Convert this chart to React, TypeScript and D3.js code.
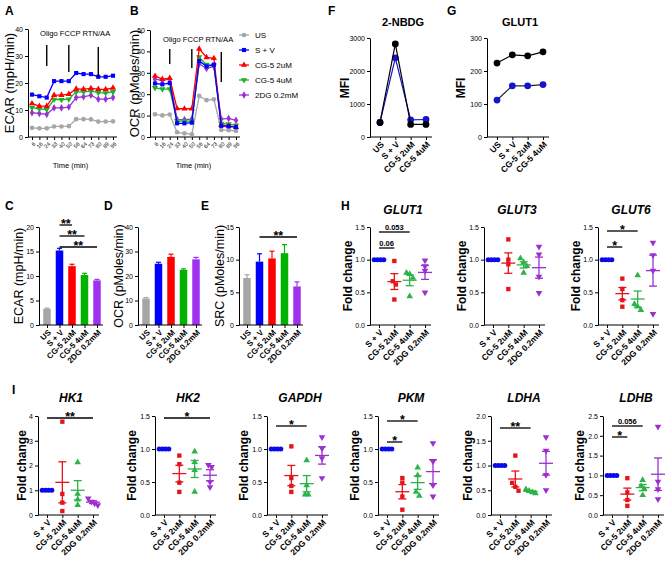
import React, { useRef, useEffect } from "react";
import * as d3 from "d3";

const FONT = "'Liberation Sans', Arial, Helvetica, sans-serif";

// ---- A / B : seahorse time course ----
const timeLabels = ["6", "16", "24", "33", "40", "50", "56", "64", "73", "80", "89", "96"];
const seahorseGroups = ["US", "S + V", "CG-5 2uM", "CG-5 4uM", "2DG 0.2mM"];
const ecarUS = [3.4, 3.2, 3.2, 3.9, 3.9, 4.0, 6.6, 6.6, 6.5, 5.7, 5.7, 5.8];
const ecarSV = [15.7, 15.1, 14.6, 20.7, 20.7, 20.7, 23.7, 23.3, 23.3, 22.3, 22.3, 22.7];
const ecarCG2 = [12.4, 11.4, 11.4, 15.5, 15.5, 15.9, 17.8, 17.7, 18.0, 17.7, 17.6, 18.2];
const ecarCG4 = [10.9, 10.4, 10.2, 13.9, 13.8, 14.0, 16.7, 16.7, 17.0, 16.4, 16.3, 16.7];
const ecar2DG = [9.0, 8.7, 8.4, 10.8, 10.8, 11.1, 14.6, 14.9, 15.5, 14.0, 14.0, 14.6];
const ocrUS = [10.6, 10.1, 10.5, 2.2, 1.7, 1.3, 19.2, 17.2, 17.6, 3.3, 3.2, 2.8];
const ocrSV = [25.0, 24.6, 25.2, 6.4, 6.4, 6.7, 35.5, 33.0, 33.8, 5.2, 5.0, 4.6];
const ocrCG2 = [28.5, 27.0, 27.5, 13.3, 13.2, 13.2, 41.2, 37.2, 36.8, 5.5, 5.2, 4.6];
const ocrCG4 = [23.0, 22.4, 22.4, 7.4, 7.4, 7.4, 37.3, 33.8, 33.5, 6.3, 6.0, 5.5];
const ocr2DG = [27.0, 26.5, 27.0, 8.2, 8.1, 8.4, 34.2, 32.0, 33.0, 8.4, 8.7, 7.8];
const injectionIdx = [2, 5, 9];

// ---- C / D / E : bars ----
const ecarMean = [3.3, 15.2, 12.0, 10.2, 9.1];
const ecarErr = [0.15, 0.45, 0.4, 0.35, 0.2];
const ocrMean = [10.8, 25.0, 27.8, 22.5, 26.8];
const ocrErr = [0.4, 0.6, 1.1, 0.4, 0.8];
const srcMean = [7.2, 9.7, 10.2, 11.0, 5.9];
const srcErr = [0.5, 1.2, 1.1, 1.3, 0.7];

// ---- F / G : MFI ----
const mfiGroups = ["US", "S + V", "CG-5 2uM", "CG-5 4uM"];
const nbdgBlack = [440, 2820, 380, 380];
const nbdgBlue = [440, 2400, 520, 530];
const glut1Black = [224, 249, 246, 258];
const glut1Blue = [112, 155, 155, 159];

// ---- H / I : fold change ----
const geneGroups = ["S + V", "CG-5 2uM", "CG-5 4uM", "2DG 0.2mM"];
const glut1 = [[1, 1, 1, 1], [0.98, 0.67, 0.62, 0.39], [0.8, 0.78, 0.72, 0.44], [0.99, 0.9, 0.83, 0.5]];
const glut3 = [[1, 1, 1, 1], [1.31, 1.0, 0.93, 0.55], [1.02, 0.96, 0.9, 0.8], [1.2, 1.08, 0.74, 0.49]];
const glut6 = [[1, 1, 1, 1], [0.71, 0.55, 0.38, 0.28], [0.76, 0.32, 0.28, 0.23], [1.26, 1.07, 0.83, 0.17]];
const hk1 = [[1, 1, 1, 1], [3.77, 0.85, 0.5, 0.16], [2.13, 0.85, 0.62, 0.4], [0.67, 0.54, 0.47, 0.4]];
const hk2 = [[1, 1, 1, 1], [0.9, 0.77, 0.49, 0.35], [0.96, 0.8, 0.68, 0.35], [0.76, 0.73, 0.5, 0.42]];
const gapdh = [[1, 1, 1, 1], [1.04, 0.56, 0.44, 0.35], [0.83, 0.45, 0.31, 0.31], [1.18, 1.01, 0.86, 0.56]];
const pkm = [[1, 1, 1, 1], [0.56, 0.49, 0.28, 0.08], [0.72, 0.6, 0.35, 0.29], [1.09, 0.81, 0.45, 0.28]];
const ldha = [[1, 1, 1, 1], [1.2, 0.65, 0.57, 0.49], [0.52, 0.49, 0.46, 0.44], [1.57, 1.3, 0.81, 0.5]];
const ldhb = [[1, 1, 1, 1], [0.93, 0.57, 0.38, 0.23], [0.88, 0.73, 0.66, 0.5], [2.23, 0.84, 0.65, 0.4]];

const groupColor = ["#a6a6a6", "#0000ff", "#ff0000", "#1fb02a", "#9a2fd6"];
const barColor = ["#a6a6a6", "#0000ff", "#ff0000", "#00b300", "#a030f0"];
const dotColor = ["#0a0aee", "#e3151b", "#2db34a", "#9b30d0"];
const seriesSymbol = [d3.symbolCircle, d3.symbolSquare, d3.symbolTriangle, d3.symbolTriangle, d3.symbolDiamond];
const seriesRot = [0, 0, 0, 180, 0];
const dotSymbol = [d3.symbolCircle, d3.symbolSquare, d3.symbolTriangle, d3.symbolTriangle];
const dotRot = [0, 0, 0, 180];

function txt(g: any, x: number, y: number, s: string, size: number, o: any = {}) {
  const t = g.append("text").attr("x", x).attr("y", y).text(s)
    .attr("font-family", FONT).attr("font-size", size).attr("fill", "#000")
    .attr("font-weight", o.bold ? "bold" : "normal")
    .attr("text-anchor", o.anchor || "start");
  if (o.italic) t.attr("font-style", "italic");
  return t;
}

function yTitle(g: any, cx: number, cy: number, s: string, size: number, bold: boolean) {
  g.append("text")
    .attr("transform", `translate(${cx},${cy}) rotate(-90)`)
    .attr("dy", "0.35em").attr("text-anchor", "middle")
    .attr("font-family", FONT).attr("font-size", size)
    .attr("font-weight", bold ? "bold" : "normal").attr("fill", "#000")
    .text(s);
}

function yAxis(g: any, y: any, x: number, ticks: number[], fmt: any, size = 7) {
  const a = g.append("g").attr("transform", `translate(${x},0)`)
    .call(d3.axisLeft(y).tickValues(ticks).tickFormat(fmt).tickSize(3).tickSizeOuter(0).tickPadding(2));
  a.attr("font-family", FONT).attr("font-size", size);
  a.selectAll("line, path").attr("stroke", "#000").attr("stroke-width", 1);
  a.selectAll("text").attr("fill", "#000");
}

function xAxis(g: any, x: any, vals: any[], fmt: any, x0: number, x1: number, yb: number, size: number, bold: boolean) {
  const a = g.append("g").attr("transform", `translate(0,${yb})`)
    .call(d3.axisBottom(x).tickValues(vals).tickFormat(fmt).tickSize(3).tickSizeOuter(0));
  a.select(".domain").remove();
  a.append("line").attr("x1", x0).attr("x2", x1).attr("stroke", "#000").attr("stroke-width", 1);
  a.attr("font-family", FONT).attr("font-size", size).attr("font-weight", bold ? "bold" : "normal");
  a.selectAll(".tick line").attr("stroke", "#000");
  a.selectAll(".tick text").attr("y", 0).attr("dy", "0.35em").attr("fill", "#000")
    .attr("transform", "translate(2,6) rotate(-45)").style("text-anchor", "end");
}

function sigBar(g: any, x1: number, x2: number, yy: number, label: string) {
  g.append("line").attr("x1", x1).attr("x2", x2).attr("y1", yy).attr("y2", yy)
    .attr("stroke", "#000").attr("stroke-width", 1.3);
  const star = label.includes("*");
  txt(g, (x1 + x2) / 2, star ? yy + 3 : yy - 2.5, label, star ? 12.5 : 7.5, { bold: true, anchor: "middle" });
}

function seahorse(svg: any, c: any) {
  const g = svg.append("g");
  const y = d3.scaleLinear().domain([0, c.yMax]).range([c.bottom, c.top]);
  const x = d3.scaleLinear().domain([0, timeLabels.length - 1]).range([c.x0, c.x1]);
  yAxis(g, y, c.ax, d3.range(0, c.yMax + 1, 10), d3.format("d"), 7);
  xAxis(g, x, d3.range(timeLabels.length), (i: number) => timeLabels[i], c.ax, c.x1 + 4, c.bottom, 5.5, false);
  const line = d3.line<number>().x((d, i) => x(i)).y((d) => y(d));
  [0, 4, 3, 2, 1].forEach((k) => {
    const s = c.series[k];
    g.append("path").attr("d", line(s)).attr("fill", "none").attr("stroke", groupColor[k]).attr("stroke-width", 1.3);
    s.forEach((v: number, i: number) =>
      g.append("path").attr("d", d3.symbol(seriesSymbol[k], 17)())
        .attr("transform", `translate(${x(i)},${y(v)}) rotate(${seriesRot[k]})`)
        .attr("fill", groupColor[k]));
  });
  injectionIdx.forEach((idx, j) =>
    g.append("line").attr("x1", x(idx)).attr("x2", x(idx))
      .attr("y1", c.marks[j][0]).attr("y2", c.marks[j][1])
      .attr("stroke", "#000").attr("stroke-width", 1.4));
  txt(g, c.labelX, c.labelY, "Oligo FCCP RTN/AA", 7.6);
  txt(g, (c.x0 + c.x1) / 2 - 2, 168, "Time (min)", 7.5, { anchor: "middle" });
  yTitle(g, c.titleX, (c.top + c.bottom) / 2, c.title, 13, false);
}

function bars(svg: any, c: any) {
  const g = svg.append("g");
  const y = d3.scaleLinear().domain([0, c.yMax]).range([325, 227]);
  const x = d3.scalePoint().domain(seahorseGroups).range([c.ax + 8, c.ax + 58]);
  const bw = 7.5;
  c.means.forEach((m: number, i: number) => {
    const cx = x(seahorseGroups[i]) as number;
    const top = y(m + c.errs[i]);
    g.append("line").attr("x1", cx).attr("x2", cx).attr("y1", y(m)).attr("y2", top)
      .attr("stroke", barColor[i]).attr("stroke-width", 1.2);
    g.append("line").attr("x1", cx - 2.5).attr("x2", cx + 2.5).attr("y1", top).attr("y2", top)
      .attr("stroke", barColor[i]).attr("stroke-width", 1.2);
    g.append("rect").attr("x", cx - bw / 2).attr("y", y(m)).attr("width", bw)
      .attr("height", y(0) - y(m)).attr("fill", barColor[i]);
  });
  yAxis(g, y, c.ax, c.ticks, d3.format("d"), 7);
  xAxis(g, x, seahorseGroups, (d: string) => d, c.ax, c.ax + 64, 325, 8, true);
  (c.sig || []).forEach((s: any) =>
    sigBar(g, x(seahorseGroups[s.from]) as number, x(seahorseGroups[s.to]) as number, s.y, s.label));
  yTitle(g, c.titleX, 276, c.title, 12.5, false);
  txt(g, c.letterX, 210, c.letter, 12, { bold: true });
}

function mfi(svg: any, c: any) {
  const g = svg.append("g");
  const y = d3.scaleLinear().domain([0, c.yMax]).range([137, 38]);
  const x = d3.scalePoint().domain(mfiGroups).range([c.ax + 10, c.ax + 56]);
  yAxis(g, y, c.ax, c.ticks, d3.format("d"), 7);
  xAxis(g, x, mfiGroups, (d: string) => d, c.ax, c.ax + 62, 137, 8.5, true);
  const line = d3.line<number>().x((d, i) => x(mfiGroups[i]) as number).y((d) => y(d));
  [[c.blue, "#1515d0", c.blueLine], [c.black, "#000", "#000"]].forEach(([vals, col, lc]: any) => {
    g.append("path").attr("d", line(vals)).attr("fill", "none").attr("stroke", lc).attr("stroke-width", 1.2);
    vals.forEach((v: number, i: number) =>
      g.append("circle").attr("cx", x(mfiGroups[i])).attr("cy", y(v)).attr("r", 3.4).attr("fill", col));
  });
  txt(g, c.ax + 33, 26, c.title, 11, { bold: true, anchor: "middle" });
  yTitle(g, c.titleX, 88, "MFI", 12, true);
}

function spread(vals: number[], y: any) {
  const idx = vals.map((v, i) => i).sort((a, b) => vals[b] - vals[a]);
  const off = vals.map(() => 0);
  let cluster = [idx[0]];
  const flush = () => {
    const n = cluster.length;
    cluster.forEach((k, j) => (off[k] = (j - (n - 1) / 2) * 3.2));
  };
  for (let j = 1; j < idx.length; j++) {
    if (Math.abs(y(vals[idx[j]]) - y(vals[idx[j - 1]])) < 4.5) cluster.push(idx[j]);
    else { flush(); cluster = [idx[j]]; }
  }
  flush();
  return off;
}

function gene(svg: any, c: any) {
  const g = svg.append("g");
  const y = d3.scaleLinear().domain([0, c.yMax]).range([c.bottom, c.top]);
  const x = d3.scalePoint().domain(geneGroups).range([c.ax + 9, c.ax + 55]);
  yAxis(g, y, c.ax, c.ticks, c.fmt, 7);
  xAxis(g, x, geneGroups, (d: string) => d, c.ax, c.ax + 61, c.bottom, 8.5, true);
  c.values.forEach((vals: number[], k: number) => {
    const cx = x(geneGroups[k]) as number;
    const off = spread(vals, y);
    vals.forEach((v, i) =>
      g.append("path").attr("d", d3.symbol(dotSymbol[k], k === 0 ? 20 : 19)())
        .attr("transform", `translate(${cx + off[i]},${y(v)}) rotate(${dotRot[k]})`)
        .attr("fill", dotColor[k]));
    if (k > 0) {
      const m = d3.mean(vals) as number;
      const se = (d3.deviation(vals) as number) / Math.sqrt(vals.length);
      const ln = (x1: number, x2: number, y1: number, y2: number) =>
        g.append("line").attr("x1", x1).attr("x2", x2).attr("y1", y1).attr("y2", y2)
          .attr("stroke", dotColor[k]).attr("stroke-width", 1.3);
      ln(cx - 7, cx + 7, y(m), y(m));
      ln(cx, cx, y(m - se), y(m + se));
      ln(cx - 4, cx + 4, y(m - se), y(m - se));
      ln(cx - 4, cx + 4, y(m + se), y(m + se));
    }
  });
  (c.sig || []).forEach((s: any) =>
    sigBar(g, x(geneGroups[s.from]) as number, x(geneGroups[s.to]) as number, s.y, s.label));
  txt(g, c.ax + 33, c.titleY, c.title, 12, { bold: true, italic: true, anchor: "middle" });
  yTitle(g, c.ax - c.labelGap, (c.top + c.bottom) / 2, "Fold change", 12, true);
}

const App = () => {
  const svgRef = useRef<SVGSVGElement | null>(null);

  useEffect(() => {
    if (!svgRef.current) return;
    const svg = d3.select(svgRef.current);
    svg.selectAll("*").remove();
    svg.append("rect").attr("width", 669).attr("height", 565).attr("fill", "#fff");

    // A
    seahorse(svg, {
      ax: 28, x0: 32, x1: 113, top: 29, bottom: 137, yMax: 40,
      series: [ecarUS, ecarSV, ecarCG2, ecarCG4, ecar2DG],
      marks: [[45, 66], [45, 72], [47, 77]], labelX: 40, labelY: 36,
      title: "ECAR (mpH/min)", titleX: 9,
    });
    // B
    seahorse(svg, {
      ax: 150, x0: 155, x1: 236, top: 30, bottom: 137, yMax: 50,
      series: [ocrUS, ocrSV, ocrCG2, ocrCG4, ocr2DG],
      marks: [[49, 64], [49, 68], [52, 82]], labelX: 163, labelY: 42,
      title: "OCR (pMoles/min)", titleX: 134,
    });
    const legend = svg.append("g");
    seahorseGroups.forEach((name, k) => {
      const ly = 35 + k * 15;
      legend.append("line").attr("x1", 239).attr("x2", 249).attr("y1", ly).attr("y2", ly)
        .attr("stroke", groupColor[k]).attr("stroke-width", 1.3);
      legend.append("path").attr("d", d3.symbol(seriesSymbol[k], 17)())
        .attr("transform", `translate(244,${ly}) rotate(${seriesRot[k]})`).attr("fill", groupColor[k]);
      txt(legend, 255, ly + 3, name, 8);
    });

    // C, D, E
    bars(svg, {
      ax: 39, yMax: 20, ticks: [0, 5, 10, 15, 20], means: ecarMean, errs: ecarErr,
      title: "ECAR (mpH/min)", titleX: 19, letter: "C", letterX: 5,
      sig: [{ from: 1, to: 2, y: 225, label: "**" }, { from: 1, to: 3, y: 236, label: "**" },
        { from: 1, to: 4, y: 247, label: "**" }],
    });
    bars(svg, {
      ax: 138, yMax: 40, ticks: [0, 10, 20, 30, 40], means: ocrMean, errs: ocrErr,
      title: "OCR (pMoles/min)", titleX: 119, letter: "D", letterX: 104,
    });
    bars(svg, {
      ax: 239, yMax: 15, ticks: [0, 5, 10, 15], means: srcMean, errs: srcErr,
      title: "SRC (pMoles/min)", titleX: 220, letter: "E", letterX: 201,
      sig: [{ from: 1, to: 4, y: 237, label: "**" }],
    });

    // F, G
    mfi(svg, { ax: 370, yMax: 3000, ticks: [0, 1000, 2000, 3000], black: nbdgBlack, blue: nbdgBlue,
      blueLine: "#1515d0", title: "2-NBDG", titleX: 345 });
    mfi(svg, { ax: 487, yMax: 300, ticks: [0, 100, 200, 300], black: glut1Black, blue: glut1Blue,
      blueLine: "#222", title: "GLUT1", titleX: 461 });

    // H
    const f1 = d3.format(".1f");
    const hRow = { top: 227, bottom: 325, titleY: 214, labelGap: 22 };
    gene(svg, { ...hRow, ax: 370, yMax: 1.5, ticks: [0, 0.5, 1, 1.5], fmt: f1, values: glut1, title: "GLUT1",
      sig: [{ from: 0, to: 2, y: 232, label: "0.053" }, { from: 0, to: 1, y: 248, label: "0.06" }] });
    gene(svg, { ...hRow, ax: 484, yMax: 1.5, ticks: [0, 0.5, 1, 1.5], fmt: f1, values: glut3, title: "GLUT3" });
    gene(svg, { ...hRow, ax: 598, yMax: 1.5, ticks: [0, 0.5, 1, 1.5], fmt: f1, values: glut6, title: "GLUT6",
      sig: [{ from: 0, to: 2, y: 231, label: "*" }, { from: 0, to: 1, y: 247, label: "*" }] });

    // I
    const iRow = { top: 416, bottom: 515, titleY: 402, labelGap: 23 };
    gene(svg, { ...iRow, ax: 38, labelGap: 16, yMax: 4, ticks: [0, 1, 2, 3, 4], fmt: d3.format("d"), values: hk1,
      title: "HK1", sig: [{ from: 0, to: 3, y: 418, label: "**" }] });
    gene(svg, { ...iRow, ax: 155, yMax: 1.5, ticks: [0, 0.5, 1, 1.5], fmt: f1, values: hk2, title: "HK2",
      sig: [{ from: 0, to: 3, y: 418, label: "*" }] });
    gene(svg, { ...iRow, ax: 267, yMax: 1.5, ticks: [0, 0.5, 1, 1.5], fmt: f1, values: gapdh, title: "GAPDH",
      sig: [{ from: 0, to: 2, y: 426, label: "*" }] });
    gene(svg, { ...iRow, ax: 378, yMax: 1.5, ticks: [0, 0.5, 1, 1.5], fmt: f1, values: pkm, title: "PKM",
      sig: [{ from: 0, to: 2, y: 421, label: "*" }, { from: 0, to: 1, y: 442, label: "*" }] });
    gene(svg, { ...iRow, ax: 491, yMax: 2, ticks: [0, 0.5, 1, 1.5, 2], fmt: f1, values: ldha, title: "LDHA",
      sig: [{ from: 0, to: 2, y: 428, label: "**" }] });
    gene(svg, { ...iRow, ax: 603, yMax: 2.5, ticks: [0, 0.5, 1, 1.5, 2, 2.5], fmt: f1, values: ldhb, title: "LDHB",
      sig: [{ from: 0, to: 2, y: 426, label: "0.056" }, { from: 0, to: 1, y: 437, label: "*" }] });

    // panel letters
    const letters: [string, number, number][] = [["A", 5, 15], ["B", 130, 15], ["F", 328, 15],
      ["G", 447, 15], ["H", 341, 210], ["I", 12, 394]];
    letters.forEach(([l, lx, ly]) => txt(svg, lx, ly, l, 12, { bold: true }));
  }, []);

  return (
    <svg ref={svgRef} width={669} height={565}
      style={{ position: "absolute", left: 0, top: 0, background: "#fff" }} />
  );
};

export default App;
